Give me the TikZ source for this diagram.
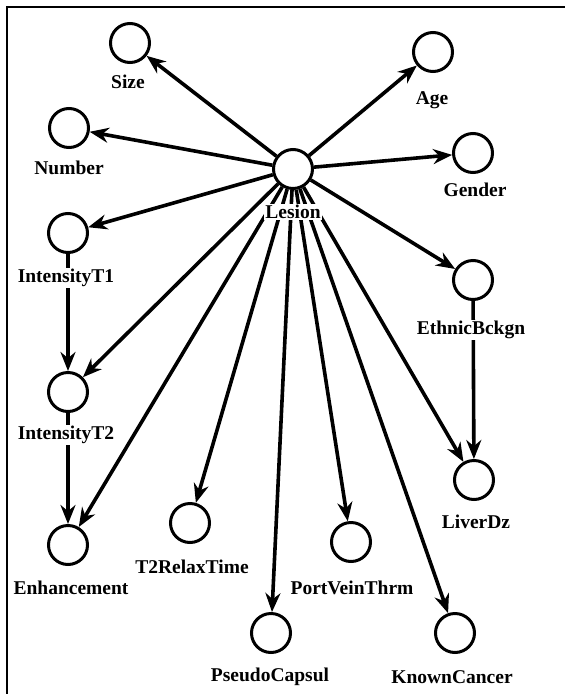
\documentclass[tikz,border=0pt]{standalone}
\usepackage{fontspec}
\setmainfont{Liberation Serif}
\usetikzlibrary{arrows.meta}
\begin{document}
\begin{tikzpicture}[>={Stealth[length=19pt,width=15pt]},x=1pt,y=-1pt,line width=3.6pt,
	var/.style={circle,draw,line width=3pt,minimum size=39pt,inner sep=0pt,fill=white},
	lbl/.style={fill=white,inner sep=1pt,font=\fontsize{19.5}{21}\selectfont\bfseries}]
			\useasboundingbox (0,0) rectangle (565,694);
			\draw[line width=2.6pt] (7,694) -- (7,7) -- (565,7);
			% variables
			\node[var] (lesion) at (293,169) {};
			\node[var] (size) at (130,43) {};
			\node[var] (age) at (433,52) {};
			\node[var] (number) at (69,128) {};
			\node[var] (gender) at (473,153) {};
			\node[var] (intT1) at (68,233) {};
			\node[var] (intT2) at (68,392) {};
			\node[var] (ethnic) at (473,280) {};
			\node[var] (liver) at (474,480) {};
			\node[var] (enhance) at (68,545) {};
			\node[var] (relax) at (190,523) {};
			\node[var] (portvein) at (351,542) {};
			\node[var] (pseudo) at (271,633) {};
			\node[var] (known) at (455,633) {};
			% links
			\draw[->] (lesion) -- (size);
			\draw[->] (lesion) -- (age);
			\draw[->] (lesion) -- (number);
			\draw[->] (lesion) -- (gender);
			\draw[->] (lesion) -- (intT1);
			\draw[->] (lesion) -- (intT2);
			\draw[->] (lesion) -- (ethnic);
			\draw[->] (lesion) -- (liver);
			\draw[->] (lesion) -- (enhance);
			\draw[->] (lesion) -- (relax);
			\draw[->] (lesion) -- (portvein);
			\draw[->] (lesion) -- (pseudo);
			\draw[->] (lesion) -- (known);
			\draw[->] (intT1) -- (intT2);
			\draw[->] (intT2) -- (enhance);
			\draw[->] (ethnic) -- (liver);
			% names
			\node[lbl] (lesionlbl) at (293,212) {Lesion};
			\node[lbl] (sizelbl) at (128,82) {Size};
			\node[lbl] (agelbl) at (432,100) {Age};
			\node[lbl] (numberlbl) at (69,168) {Number};
			\node[lbl] (genderlbl) at (475,190) {Gender};
			\node[lbl] (intT1lbl) at (66,278) {IntensityT1};
			\node[lbl] (intT2lbl) at (66,435) {IntensityT2};
			\node[lbl] (ethniclbl) at (471,330) {EthnicBckgn};
			\node[lbl] (liverlbl) at (476,522) {LiverDz};
			\node[lbl] (enhancelbl) at (71,588) {Enhancement};
			\node[lbl] (relaxlbl) at (192,567) {T2RelaxTime};
			\node[lbl] (portveinlbl) at (352,588) {PortVeinThrm};
			\node[lbl] (pseudolbl) at (270,677) {PseudoCapsul};
			\node[lbl] (knownlbl) at (452,677) {KnownCancer};
		\end{tikzpicture}
\end{document}
